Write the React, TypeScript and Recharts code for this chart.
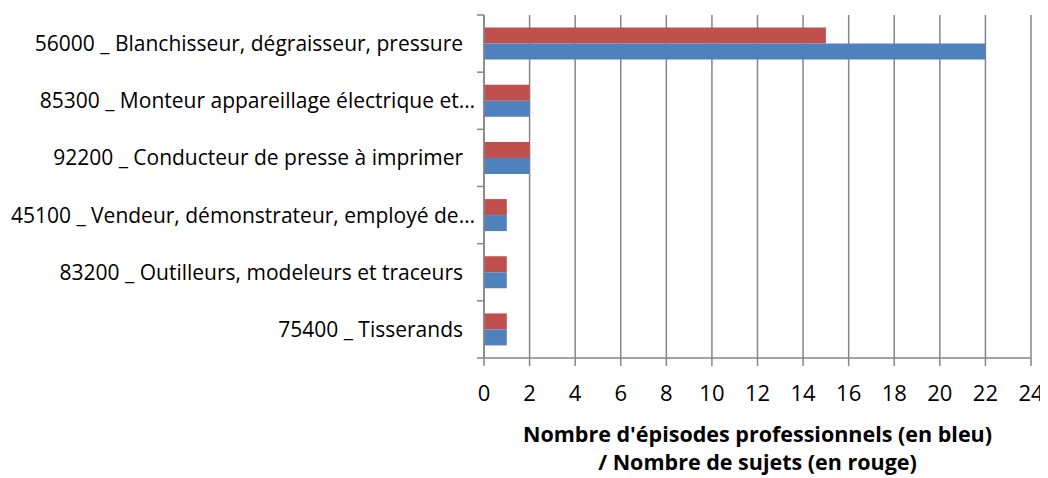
import React from "react";
import { BarChart, Bar, XAxis, YAxis, CartesianGrid, Label } from "recharts";

const categories = [
  "56000 _ Blanchisseur, dégraisseur, pressure",
  "85300 _ Monteur appareillage électrique et…",
  "92200 _ Conducteur de presse à imprimer",
  "45100 _ Vendeur, démonstrateur, employé de…",
  "83200 _ Outilleurs, modeleurs et traceurs",
  "75400 _ Tisserands",
];
const sujets = [15, 2, 2, 1, 1, 1];
const episodes = [22, 2, 2, 1, 1, 1];
const xTicks = [0, 2, 4, 6, 8, 10, 12, 14, 16, 18, 20, 22, 24];
const titleLines = ["Nombre d'épisodes professionnels (en bleu)", "/ Nombre de sujets (en rouge)"];

const data = categories.map((c, i) => ({ name: c, sujets: sujets[i], episodes: episodes[i] }));

const FONT = "'Open Sans', Lato, sans-serif";
const AXIS = "#868686";

const YTick = (props: any) => {
  const { x, y, payload, index } = props;
  const half = payload && typeof payload.offset === "number" && payload.offset > 0 ? payload.offset : 28.6;
  const label = String(payload.value);
  const truncated = label.endsWith("…");
  return (
    <g>
      <line x1={x - 7} x2={x} y1={y - half} y2={y - half} stroke={AXIS} strokeWidth={1.5} />
      {index === categories.length - 1 && (
        <line x1={x - 7} x2={x} y1={y + half} y2={y + half} stroke={AXIS} strokeWidth={1.5} />
      )}
      <text
        x={truncated ? x - 9 : x - 21}
        y={y}
        dy="0.36em"
        textAnchor="end"
        fontFamily={FONT}
        fontSize={21}
        fill="#000"
      >
        {label}
      </text>
    </g>
  );
};

const XTitle = (props: any) => {
  const vb = props.viewBox || {};
  const cx = vb.x + vb.width / 2;
  return (
    <g fontFamily={FONT} fontSize={21.5} fontWeight="bold" fill="#000">
      <text x={cx} y={434} textAnchor="middle">{titleLines[0]}</text>
      <text x={cx} y={462} textAnchor="middle">{titleLines[1]}</text>
    </g>
  );
};

export default function App() {
  return (
    <BarChart
      width={1040}
      height={470}
      data={data}
      layout="vertical"
      margin={{ top: 7, right: 17, left: 0, bottom: 80 }}
      barCategoryGap="22%"
      barGap={0}
    >
      <CartesianGrid horizontal={false} vertical={true} stroke={AXIS} strokeWidth={1.5} />
      <XAxis
        type="number"
        domain={[0, 24]}
        ticks={xTicks}
        interval={0}
        height={40}
        axisLine={{ stroke: AXIS, strokeWidth: 1.5 }}
        tickLine={{ stroke: AXIS, strokeWidth: 1.5 }}
        tickSize={8}
        tickMargin={19}
        tick={{ fontFamily: FONT, fontSize: 22, fill: "#000" }}
      >
        <Label content={<XTitle />} />
      </XAxis>
      <YAxis
        type="category"
        dataKey="name"
        width={476}
        axisLine={{ stroke: AXIS, strokeWidth: 1.5 }}
        tickLine={false}
        tickSize={0}
        tickMargin={0}
        interval={0}
        tick={<YTick />}
      />
      <Bar dataKey="sujets" fill="#C0504D" isAnimationActive={false} />
      <Bar dataKey="episodes" fill="#4F81BD" isAnimationActive={false} />
    </BarChart>
  );
}
